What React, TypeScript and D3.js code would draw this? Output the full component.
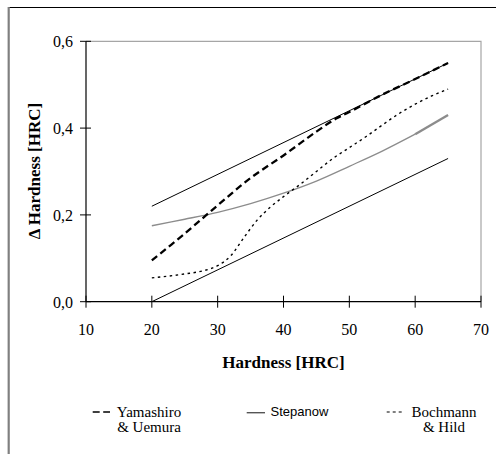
import React from "react";
import * as d3 from "d3";

const xTicks = [10, 20, 30, 40, 50, 60, 70];
const yTicks = [0, 0.2, 0.4, 0.6];

const boundX = [20, 65];
const upperBound = [0.22, 0.55];
const lowerBound = [0.0, 0.33];

const yamaX = [20, 25, 30, 35, 40, 45, 48, 50, 55, 60, 65];
const yamaY = [0.095, 0.157, 0.222, 0.285, 0.337, 0.392, 0.422, 0.437, 0.477, 0.513, 0.55];

const stepX = [20, 25, 30, 35, 40, 45, 50, 55, 60];
const stepY = [0.175, 0.19, 0.206, 0.226, 0.25, 0.278, 0.312, 0.347, 0.386];
const stepTailX = [60, 65];
const stepTailY = [0.386, 0.43];

const bochX = [20, 25, 28, 30, 32, 34, 36, 38, 40, 42.5, 45, 47.5, 50, 52.5, 55, 57.5, 60, 62.5, 65];
const bochY = [0.055, 0.064, 0.072, 0.083, 0.106, 0.148, 0.188, 0.218, 0.242, 0.27, 0.3, 0.33, 0.355, 0.38, 0.407, 0.433, 0.455, 0.474, 0.49];

const SERIF = "'Liberation Serif', 'Times New Roman', serif";
const SANS = "'Liberation Sans', Arial, sans-serif";

export default function App() {
  const x = d3.scaleLinear().domain([10, 70]).range([86, 481]);
  const y = d3.scaleLinear().domain([0, 0.6]).range([301.7, 41.3]);

  const mk = (xs: number[], ys: number[], curve: any = d3.curveLinear) =>
    d3
      .line<number>()
      .x((_, i) => x(xs[i]))
      .y((d) => y(d))
      .curve(curve)(ys) as string;

  return (
    <svg
      width={496}
      height={454}
      style={{ position: "absolute", left: 0, top: 0, background: "#fff" }}
    >
      {/* outer frame */}
      <line x1={8} x2={496} y1={7.5} y2={7.5} stroke="#000" strokeWidth={1} />
      <line x1={8.7} x2={8.7} y1={7} y2={454} stroke="#808080" strokeWidth={2.2} />

      {/* plot border */}
      <path
        d={`M${x(10)},${y(0.6)}H${x(70)}V${y(0)}`}
        fill="none"
        stroke="#a6a6a6"
        strokeWidth={1.2}
      />

      {/* bounds */}
      <path d={mk(boundX, upperBound)} fill="none" stroke="#000" strokeWidth={1} />
      <path d={mk(boundX, lowerBound)} fill="none" stroke="#000" strokeWidth={1} />

      {/* Stepanow */}
      <path d={mk(stepX, stepY, d3.curveCatmullRom)} fill="none" stroke="#8c8c8c" strokeWidth={1.3} />
      <path d={mk(stepTailX, stepTailY)} fill="none" stroke="#8c8c8c" strokeWidth={2.4} />

      {/* Bochmann & Hild */}
      <path
        d={mk(bochX, bochY, d3.curveMonotoneX)}
        fill="none"
        stroke="#000"
        strokeWidth={1.4}
        strokeDasharray="2.5,3.5"
      />

      {/* Yamashiro & Uemura */}
      <path
        d={mk(yamaX, yamaY, d3.curveCatmullRom)}
        fill="none"
        stroke="#000"
        strokeWidth={2.3}
        strokeDasharray="7,4"
      />

      {/* axes */}
      <line x1={x(10)} x2={x(10)} y1={y(0.6)} y2={y(0)} stroke="#000" strokeWidth={1.2} />
      <line x1={x(10)} x2={x(70)} y1={y(0)} y2={y(0)} stroke="#000" strokeWidth={1.2} />
      {yTicks.map((t) => (
        <g key={"y" + t}>
          <line x1={80} x2={91} y1={y(t)} y2={y(t)} stroke="#000" strokeWidth={1} />
          <text
            x={73}
            y={y(t) + 6}
            textAnchor="end"
            fontFamily={SERIF}
            fontSize={16}
            fill="#000"
          >
            {t.toFixed(1).replace(".", ",")}
          </text>
        </g>
      ))}
      {xTicks.map((t) => (
        <g key={"x" + t}>
          <line x1={x(t)} x2={x(t)} y1={y(0) - 6} y2={y(0) + 6} stroke="#000" strokeWidth={1} />
          <text
            x={x(t)}
            y={335}
            textAnchor="middle"
            fontFamily={SERIF}
            fontSize={16}
            fill="#000"
          >
            {t}
          </text>
        </g>
      ))}

      {/* axis titles */}
      <text
        x={283.5}
        y={368}
        textAnchor="middle"
        fontFamily={SERIF}
        fontSize={17}
        fontWeight="bold"
        fill="#000"
      >
        Hardness [HRC]
      </text>
      <text
        transform="translate(39.5,171) rotate(-90)"
        textAnchor="middle"
        fontFamily={SERIF}
        fontSize={17}
        fontWeight="bold"
        fill="#000"
      >
        Δ Hardness [HRC]
      </text>

      {/* legend */}
      <line x1={92.7} x2={110} y1={412} y2={412} stroke="#000" strokeWidth={1.5} strokeDasharray="7,3.5" />
      <text x={149} y={416.5} textAnchor="middle" fontFamily={SERIF} fontSize={15} fill="#000">
        Yamashiro
      </text>
      <text x={149} y={432} textAnchor="middle" fontFamily={SERIF} fontSize={15} fill="#000">
        &amp; Uemura
      </text>

      <line x1={246.7} x2={265} y1={412.7} y2={412.7} stroke="#555" strokeWidth={1.4} />
      <text x={270.5} y={415.5} fontFamily={SANS} fontSize={13} fill="#000">
        Stepanow
      </text>

      <line x1={386.7} x2={402} y1={412} y2={412} stroke="#000" strokeWidth={1.2} strokeDasharray="3,3" />
      <text x={444} y={416.5} textAnchor="middle" fontFamily={SERIF} fontSize={15} fill="#000">
        Bochmann
      </text>
      <text x={444} y={432} textAnchor="middle" fontFamily={SERIF} fontSize={15} fill="#000">
        &amp; Hild
      </text>
    </svg>
  );
}
